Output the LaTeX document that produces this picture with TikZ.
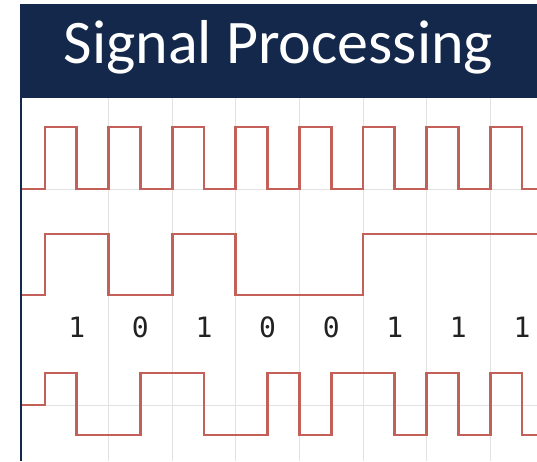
\documentclass[tikz,border=0pt]{standalone}
\usepackage{fontspec}
\newfontfamily\titlefont{Carlito}
\newfontfamily\bitfont{DejaVu Sans Mono}
\definecolor{navy}{HTML}{13284A}
\definecolor{sig}{HTML}{C4605A}
\definecolor{gridc}{HTML}{E2E2E2}
\definecolor{bitc}{HTML}{222222}
\begin{document}
\begin{tikzpicture}[x=1pt,y=1pt,
  signal/.style={draw=sig,line width=2.8pt,line join=miter},
  gridline/.style={draw=gridc,line width=1pt},
  bitlabel/.style={font=\bitfont\fontsize{28}{28}\selectfont,text=bitc,inner sep=0pt}]
\useasboundingbox (0,0) rectangle (537,-461);
\fill[white] (0,0) rectangle (537,-461);
% grid
\foreach \x in {108.6,172.2,235.8,299.4,363,426.6,490.2}
  \draw[gridline] (\x,-97) -- (\x,-461);
\draw[gridline] (22,-189) -- (537,-189);
\draw[gridline] (22,-405) -- (537,-405);
% header
\fill[navy] (20,-3.5) rectangle (537,-97.5);
\node[anchor=base,text=white,inner sep=0pt,font=\titlefont\fontsize{62}{62}\selectfont] (title) at (278.5,-63) {Signal Processing};
\draw[navy,line width=2.2pt] (21,-97) -- (21,-461);
% signals
\begin{scope}
\clip (22,-97) rectangle (537,-461);
% clock
\draw[signal] (22,-189) -- (45,-189)
  \foreach \k in {0,...,7}{ -- ++(0,62) -- ++(31.8,0) -- ++(0,-62) -- ++(31.8,0)};
% data
\draw[signal] (22,-295) -- (45,-295) -- (45,-234) -- (108.6,-234) -- (108.6,-295)
  -- (172.2,-295) -- (172.2,-234) -- (235.8,-234) -- (235.8,-295) -- (363,-295)
  -- (363,-234) -- (540,-234);
% manchester
\draw[signal] (22,-405) -- (45,-405) -- (45,-373) -- (76.8,-373) -- (76.8,-435)
  -- (140.4,-435) -- (140.4,-373) -- (204,-373) -- (204,-435) -- (267.6,-435)
  -- (267.6,-373) -- (299.4,-373) -- (299.4,-435) -- (331.2,-435) -- (331.2,-373)
  -- (394.8,-373) -- (394.8,-435) -- (426.6,-435) -- (426.6,-373) -- (458.4,-373)
  -- (458.4,-435) -- (490.2,-435) -- (490.2,-373) -- (522,-373) -- (522,-435)
  -- (540,-435);
\end{scope}
% bits
\node[bitlabel] (b1) at (76.8,-327) {1};
\node[bitlabel] (b2) at (140.4,-327) {0};
\node[bitlabel] (b3) at (204,-327) {1};
\node[bitlabel] (b4) at (267.6,-327) {0};
\node[bitlabel] (b5) at (331.2,-327) {0};
\node[bitlabel] (b6) at (394.8,-327) {1};
\node[bitlabel] (b7) at (458.4,-327) {1};
\node[bitlabel] (b8) at (522,-327) {1};
\end{tikzpicture}
\end{document}
